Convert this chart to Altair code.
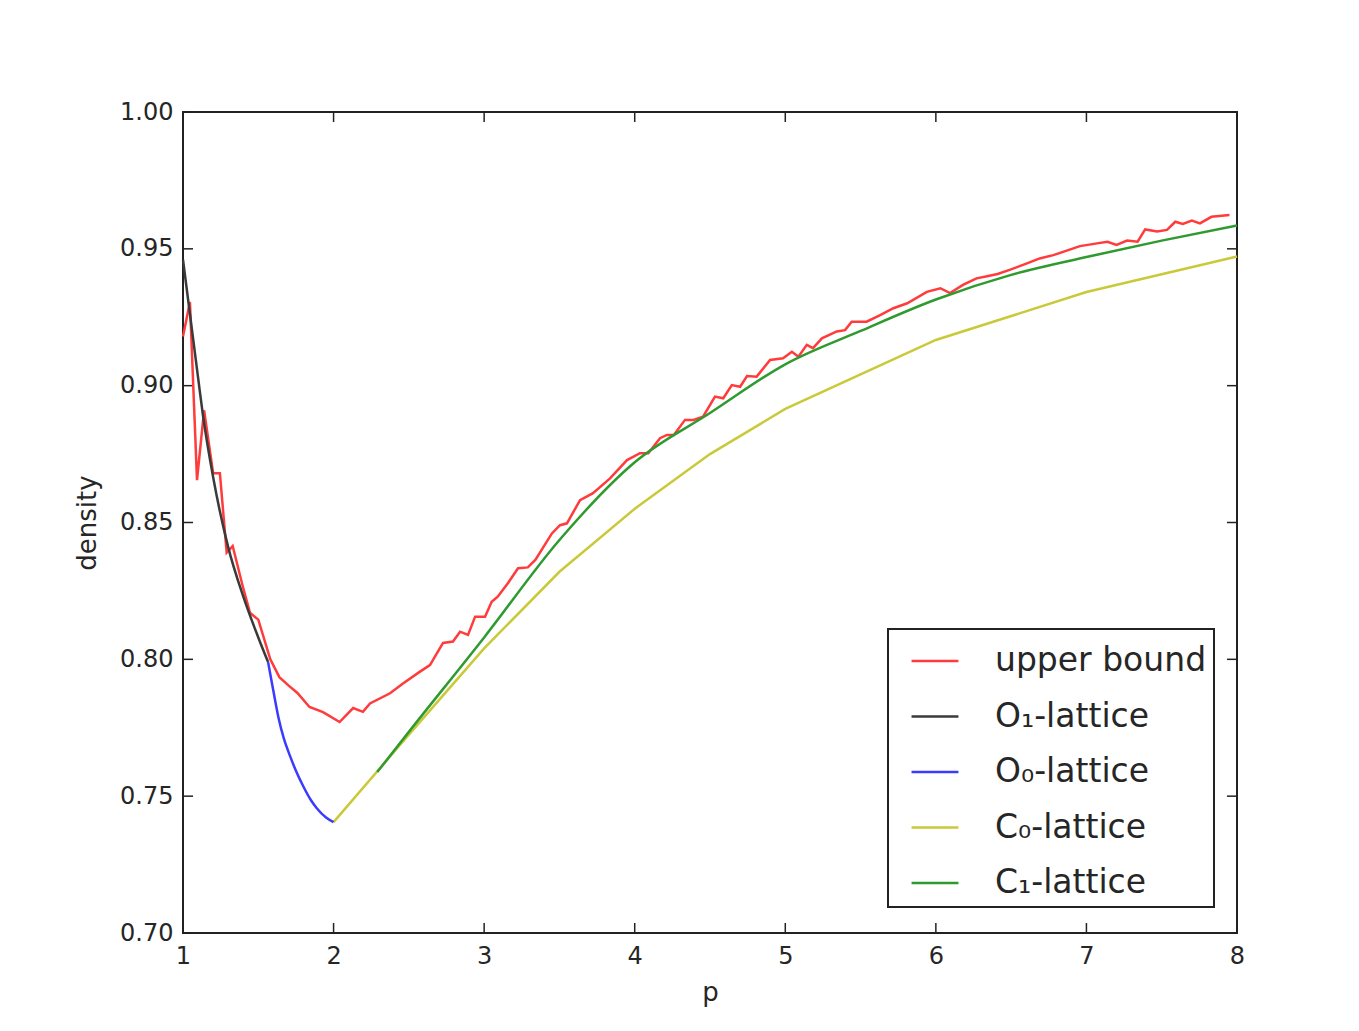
import altair as alt
import pandas as pd

# ---- data ----
red_p = [1.0, 1.046, 1.093, 1.14, 1.2, 1.245, 1.29, 1.33, 1.40, 1.445, 1.5, 1.58, 1.64, 1.70, 1.76,
         1.84, 1.93, 2.04, 2.13, 2.195, 2.242, 2.375, 2.461, 2.574, 2.64, 2.727, 2.793, 2.84, 2.893,
         2.94, 3.006, 3.05, 3.09, 3.16, 3.225, 3.29, 3.34, 3.45, 3.504, 3.55, 3.637, 3.723, 3.836,
         3.949, 4.035, 4.09, 4.168, 4.214, 4.26, 4.334, 4.39, 4.454, 4.533, 4.588, 4.645, 4.70,
         4.746, 4.81, 4.899, 4.985, 5.044, 5.087, 5.143, 5.184, 5.243, 5.342, 5.397, 5.441, 5.54,
         5.63, 5.718, 5.81, 5.94, 6.03, 6.094, 6.18, 6.27, 6.34, 6.41, 6.49, 6.605, 6.69, 6.78,
         6.957, 7.07, 7.14, 7.2, 7.27, 7.34, 7.39, 7.47, 7.535, 7.59, 7.64, 7.70, 7.754, 7.83, 7.95]
red_v = [0.918, 0.9306, 0.8655, 0.891, 0.868, 0.868, 0.839, 0.8414, 0.826, 0.817, 0.8145, 0.800,
         0.7935, 0.7905, 0.7877, 0.7826, 0.7807, 0.7771, 0.7822, 0.7808, 0.7839, 0.7876, 0.7912,
         0.7955, 0.7979, 0.806, 0.8065, 0.8101, 0.8089, 0.8156, 0.8156, 0.821, 0.8229, 0.828,
         0.8333, 0.8336, 0.8363, 0.846, 0.849, 0.8497, 0.8582, 0.8607, 0.8661, 0.8728, 0.8753,
         0.8753, 0.8808, 0.882, 0.882, 0.8875, 0.8875, 0.8887, 0.896, 0.8954, 0.9002, 0.8996,
         0.9035, 0.9033, 0.9094, 0.910, 0.9124, 0.9106, 0.9149, 0.9137, 0.9173, 0.9198, 0.9203,
         0.9234, 0.9234, 0.9258, 0.9283, 0.9301, 0.9343, 0.9356, 0.9338, 0.9368, 0.9392, 0.9400,
         0.9408, 0.9423, 0.9447, 0.9465, 0.9477, 0.951, 0.952, 0.9526, 0.9514, 0.953, 0.9526,
         0.9571, 0.9563, 0.9569, 0.9599, 0.9591, 0.9603, 0.9593, 0.9617, 0.9624]

o1_p = [1.0, 1.1, 1.133, 1.2, 1.3, 1.4, 1.5, 1.565]
o1_v = [0.946, 0.903, 0.889, 0.8666, 0.841, 0.823, 0.808, 0.799]

o0_p = [1.565, 1.60, 1.635, 1.67, 1.71, 1.75, 1.797, 1.85, 1.89, 1.95, 2.0]
o0_v = [0.799, 0.7885, 0.7785, 0.771, 0.7648, 0.7593, 0.7538, 0.7485, 0.7455, 0.7422, 0.7405]

c0_p = [2.0, 2.5, 3.0, 3.5, 4.0, 4.5, 5.0, 6.0, 7.0, 8.0]
c0_v = [0.7405, 0.7725, 0.804, 0.832, 0.855, 0.875, 0.8915, 0.9167, 0.9342, 0.9472]

c1_p = [2.29, 2.5, 3.0, 3.5, 4.0, 4.5, 5.0, 5.5, 6.0, 6.5, 7.0, 7.5, 8.0]
c1_v = [0.7588, 0.7735, 0.808, 0.8436, 0.872, 0.8900, 0.9078, 0.9200, 0.9315, 0.9405, 0.947, 0.953, 0.9585]

names = ["upper bound", "O\u2081-lattice", "O\u2080-lattice", "C\u2080-lattice", "C\u2081-lattice"]
colors = ["#ff3b3b", "#3a3a3a", "#3b3bff", "#c9c93a", "#2f9a2f"]

x_ticks = [1, 2, 3, 4, 5, 6, 7, 8]
y_ticks = [0.70, 0.75, 0.80, 0.85, 0.90, 0.95, 1.00]

W, H = 1054, 821

def frame(name, ps, vs):
    return pd.DataFrame({"p": ps, "density": vs, "series": name})

df_red = frame(names[0], red_p, red_v)
df_yel = frame(names[3], c0_p, c0_v)
df_smooth = pd.concat([frame(names[1], o1_p, o1_v),
                       frame(names[2], o0_p, o0_v),
                       frame(names[4], c1_p, c1_v)])

xs = alt.Scale(domain=[1, 8], nice=False, zero=False)
ys = alt.Scale(domain=[0.70, 1.00], nice=False, zero=False)
cs = alt.Scale(domain=names, range=colors)

X = alt.X("p:Q", scale=xs, title="p",
          axis=alt.Axis(values=x_ticks, format="d", labelPadding=11, titlePadding=11,
                        labelFlush=False))
Y = alt.Y("density:Q", scale=ys, title="density",
          axis=alt.Axis(values=y_ticks, format=".2f", labelPadding=10, titlePadding=19,
                        labelFlush=False))
C = alt.Color("series:N", scale=cs, sort=names,
              legend=alt.Legend(title=None, orient="none", legendX=705, legendY=517))

LW = 2.5
red = alt.Chart(df_red).mark_line(strokeWidth=LW).encode(x=X, y=Y, color=C, order="p:Q")
yel = alt.Chart(df_yel).mark_line(strokeWidth=LW).encode(x=X, y=Y, color=C, order="p:Q")
smooth = alt.Chart(df_smooth).mark_line(strokeWidth=LW, interpolate="monotone").encode(
    x=X, y=Y, color=C, detail="series:N", order="p:Q")

xt = pd.DataFrame({"p": x_ticks})
yt = pd.DataFrame({"density": y_ticks})
tick_col = "#222222"
tick_len = 10
bottom_t = alt.Chart(xt).mark_rule(color=tick_col, strokeWidth=1.5).encode(
    x=alt.X("p:Q", scale=xs), y=alt.value(H), y2=alt.value(H - tick_len))
top_t = alt.Chart(xt).mark_rule(color=tick_col, strokeWidth=1.5).encode(
    x=alt.X("p:Q", scale=xs), y=alt.value(0), y2=alt.value(tick_len))
left_t = alt.Chart(yt).mark_rule(color=tick_col, strokeWidth=1.5).encode(
    y=alt.Y("density:Q", scale=ys), x=alt.value(0), x2=alt.value(tick_len))
right_t = alt.Chart(yt).mark_rule(color=tick_col, strokeWidth=1.5).encode(
    y=alt.Y("density:Q", scale=ys), x=alt.value(W), x2=alt.value(W - tick_len))

chart = alt.layer(bottom_t, top_t, left_t, right_t, red, yel, smooth).properties(
    width=W, height=H,
    autosize=alt.AutoSizeParams(type="none"),
    padding={"left": 175, "top": 104, "right": 100, "bottom": 90},
    background="white",
).configure_view(
    stroke="#222222", strokeWidth=2
).configure_axis(
    domain=False, ticks=False, grid=False,
    labelFont="DejaVu Sans", labelFontSize=24, labelColor="#262626",
    titleFont="DejaVu Sans", titleFontSize=26, titleFontWeight="normal", titleColor="#262626",
).configure_legend(
    padding=7, strokeColor="#222222", strokeWidth=2, fillColor="white",
    symbolType="stroke", symbolSize=2200, symbolStrokeWidth=2.5,
    labelFont="DejaVu Sans", labelFontSize=33, labelColor="#262626", labelLimit=400,
    labelOffset=35, rowPadding=13.5, symbolOffset=15, cornerRadius=0,
)

chart.save("out.html", embed_options={"renderer": "svg", "actions": False})
